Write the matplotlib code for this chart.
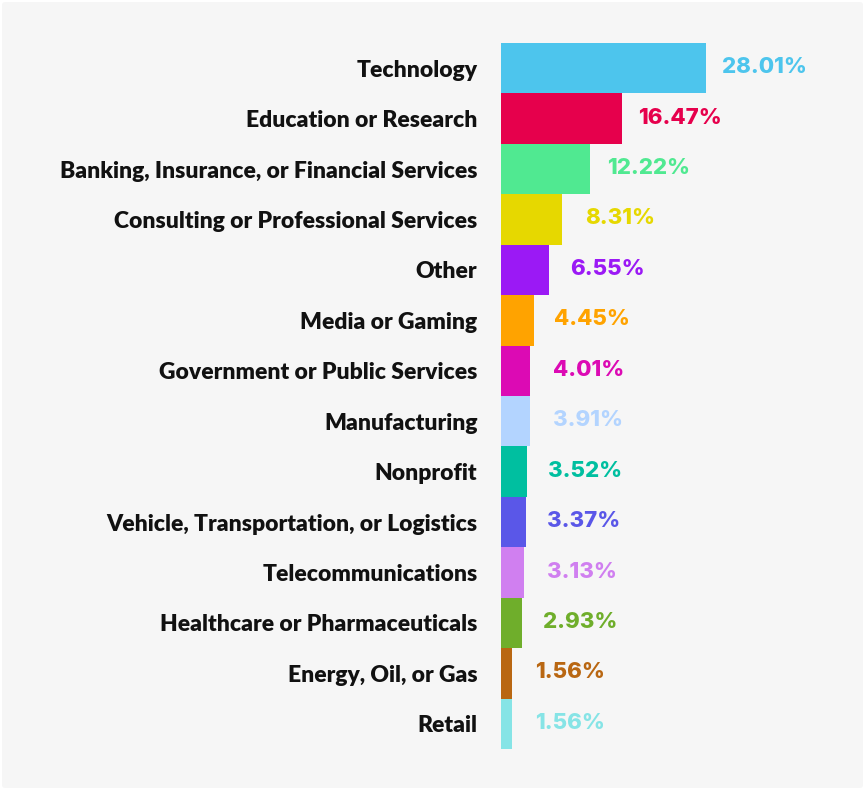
import numpy as np
import matplotlib.pyplot as plt
from matplotlib.patches import FancyBboxPatch

plt.rcParams["font.family"] = ["Lato", "DejaVu Sans"]

categories = [
    "Technology",
    "Education or Research",
    "Banking, Insurance, or Financial Services",
    "Consulting or Professional Services",
    "Other",
    "Media or Gaming",
    "Government or Public Services",
    "Manufacturing",
    "Nonprofit",
    "Vehicle, Transportation, or Logistics",
    "Telecommunications",
    "Healthcare or Pharmaceuticals",
    "Energy, Oil, or Gas",
    "Retail",
]
shares = [28.01, 16.47, 12.22, 8.31, 6.55, 4.45, 4.01, 3.91, 3.52, 3.37, 3.13, 2.93, 1.56, 1.56]
colors = [
    "#4dc5ed", "#e6004c", "#50e991", "#e6d800", "#9b19f5", "#ffa300", "#dc0ab4",
    "#b3d4ff", "#00bfa0", "#5a57e8", "#d07ff0", "#6fae2b", "#b96712", "#86e4e6",
]

W, H = 865, 790
fig = plt.figure(figsize=(W / 100, H / 100), dpi=100, facecolor="white")

# light grey panel behind everything
panel = FancyBboxPatch((2 / W, 2 / H), 861 / W, 786 / H,
                       boxstyle="round,pad=0,rounding_size=0.004",
                       transform=fig.transFigure, facecolor="#f6f6f6",
                       edgecolor="none", zorder=-10)
fig.patches.append(panel)

# axes placed in pixels: bars start at x=501, rows span y=43..749
px_per_unit = 205 / 28.01
left, right = 501, 863
top, bottom = 43, 749
ax = fig.add_axes([left / W, 1 - bottom / H, (right - left) / W, (bottom - top) / H])
ax.set_facecolor("none")

y = np.arange(len(categories))
ax.barh(y, shares, height=1.0, color=colors, linewidth=0)

ax.set_xlim(0, (right - left) / px_per_unit)
ax.set_ylim(len(categories) - 0.5, -0.5)

ax.set_yticks(y)
ax.set_yticklabels(categories, fontsize=16.5, fontweight="heavy", color="#111111")
ax.tick_params(axis="y", length=0, pad=17)
ax.set_xticks([])
for s in ax.spines.values():
    s.set_visible(False)

for yi, v, c in zip(y, shares, colors):
    ax.annotate("%.2f%%" % v, (v, yi), xytext=(58, 1), textcoords="offset pixels",
                ha="center", va="center", fontsize=16, fontweight="heavy", color=c,
                family=["Inter", "DejaVu Sans"])

fig.savefig("out.png", dpi=100, facecolor="white")
